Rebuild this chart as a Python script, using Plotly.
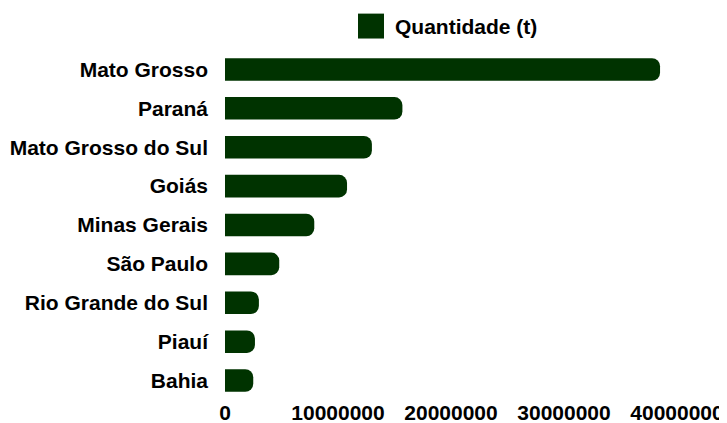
import plotly.graph_objects as go

states = ["Mato Grosso", "Paraná", "Mato Grosso do Sul", "Goiás", "Minas Gerais",
          "São Paulo", "Rio Grande do Sul", "Piauí", "Bahia"]
quantidade = [38500000, 15700000, 13000000, 10800000, 7900000,
              4800000, 3000000, 2650000, 2500000]
x_ticks = [0, 10000000, 20000000, 30000000, 40000000]
x_tick_labels = ["0", "10000000", "20000000", "30000000", "40000000"]
series_name = "Quantidade (t)"

GREEN = "#003300"
FONT = "Liberation Sans, Arial, Helvetica, sans-serif"

# page body has an 8px margin: figure is drawn from (8, 8) in the window
OFF = 8
W, H = 727 - OFF, 423 - OFF
L, R, T, B = 225 - OFF, 50, 49.5 - OFF, 22.5
PW, PH = W - L - R, H - T - B

fig = go.Figure()
fig.add_trace(go.Bar(
    y=states, x=quantidade, orientation="h", name=series_name,
    marker=dict(color=GREEN, cornerradius=8, line=dict(width=0)),
    showlegend=False,
))

# custom legend (larger swatch than plotly's default)
fig.add_shape(type="rect", xref="paper", yref="paper",
              x0=(358 - 225) / PW, x1=(384 - 225) / PW,
              y0=1 + (49.5 - 38) / PH, y1=1 + (49.5 - 13) / PH,
              fillcolor=GREEN, line=dict(width=0))
fig.add_annotation(text="<b>" + series_name + "</b>", xref="paper", yref="paper",
                   x=(393 - 225) / PW, y=1 + (49.5 - 25.5) / PH,
                   xanchor="left", yanchor="middle", showarrow=False,
                   font=dict(family=FONT, size=21, color="#000000"))

fig.update_layout(
    width=W, height=H,
    margin=dict(l=L, r=R, t=T, b=B, autoexpand=False),
    paper_bgcolor="white", plot_bgcolor="white",
    bargap=0.42,
    font=dict(family=FONT, size=21, color="#000000"),
)
fig.update_xaxes(range=[0, 40000000], tickvals=x_ticks, ticktext=["<b>%s</b>" % t for t in x_tick_labels],
                 showgrid=False, zeroline=False, showline=False, ticks="", automargin=False,
                 ticklabelstandoff=-2,
                 tickfont=dict(family=FONT, size=21, color="#000000"))
fig.update_yaxes(categoryorder="array", categoryarray=states, autorange="reversed",
                 tickvals=states, ticktext=["<b>%s</b>" % s for s in states],
                 showgrid=False, zeroline=False, showline=False, ticks="", automargin=False,
                 ticklabelstandoff=16,
                 tickfont=dict(family=FONT, size=21, color="#000000"))

fig.write_html("out.html")
